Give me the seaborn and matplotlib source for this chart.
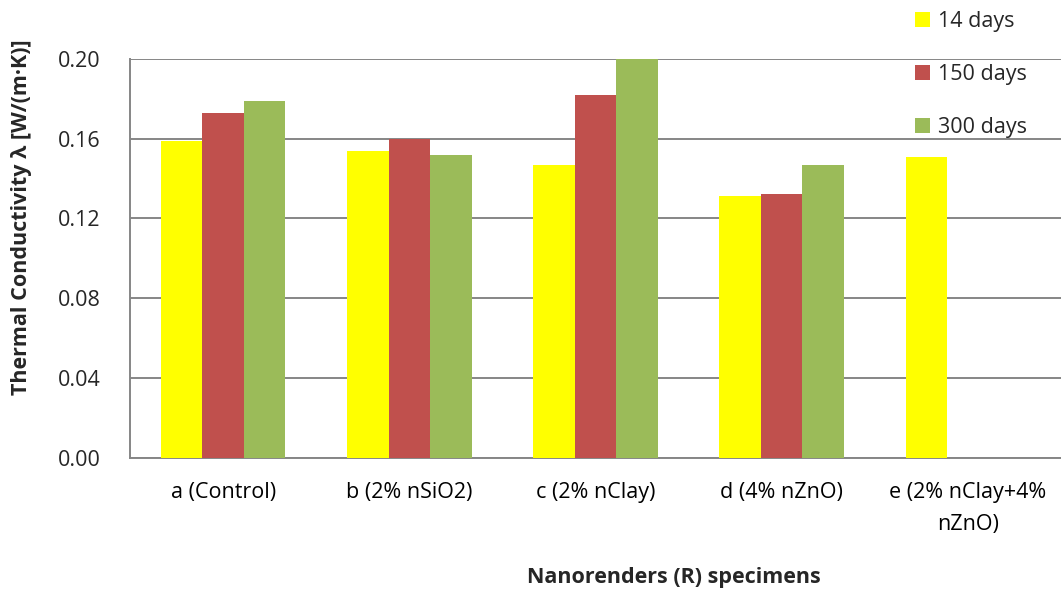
import matplotlib
matplotlib.use('Agg')
import matplotlib.pyplot as plt
import seaborn as sns
import numpy as np
import pandas as pd
from matplotlib.patches import Patch

# data
specimens = ['a (Control)', 'b (2% nSiO2)', 'c (2% nClay)', 'd (4% nZnO)',
             'e (2% nClay+4%\nnZnO)']
ages = ['14 days', '150 days', '300 days']
days_14 = [0.159, 0.154, 0.147, 0.131, 0.151]
days_150 = [0.173, 0.160, 0.182, 0.132, np.nan]
days_300 = [0.179, 0.152, 0.200, 0.147, np.nan]
y_ticks = [0.00, 0.04, 0.08, 0.12, 0.16, 0.20]

colors = ['#FFFF00', '#C0504D', '#9BBB59']
grid_c = '#868686'
fs = 15.5

sns.set_style('white')
plt.rcParams['font.family'] = ['Open Sans', 'DejaVu Sans']

rows = []
for age, vals in zip(ages, [days_14, days_150, days_300]):
    for s, v in zip(specimens, vals):
        rows.append({'specimen': s, 'age': age, 'lambda': v})
df = pd.DataFrame(rows)

fig = plt.figure(figsize=(10.61, 5.99), dpi=100, facecolor='white')
ax = fig.add_axes([130 / 1061, 1 - 458 / 599, 1 - 130 / 1061, (458 - 58.7) / 599])

sns.barplot(data=df, x='specimen', y='lambda', hue='age', order=specimens,
            hue_order=ages, palette=colors, width=0.67, gap=0, errorbar=None,
            linewidth=0, saturation=1, legend=False, ax=ax, zorder=3)

ax.set_ylim(0, 0.20)
ax.set_xlim(-0.5, len(specimens) - 0.5)
ax.set_yticks(y_ticks)
ax.set_yticklabels([f'{t:.2f}' for t in y_ticks])
ax.yaxis.grid(True, color=grid_c, linewidth=1.4, zorder=0)
ax.set_axisbelow(True)

ax.set_xticks(np.arange(len(specimens)))
ax.set_xticklabels(specimens, linespacing=1.65)
ax.set_xticks(np.arange(len(specimens) + 1) - 0.5, minor=True)
ax.tick_params(axis='x', which='major', length=0, pad=17.5, labelsize=fs, colors='black')
ax.tick_params(axis='x', which='minor', length=6, width=1.2, color=grid_c)
ax.tick_params(axis='y', length=6, width=1.2, color=grid_c, pad=15, labelsize=fs)
ax.set_xlabel('')
ax.set_ylabel('')

for sp in ['top', 'right']:
    ax.spines[sp].set_visible(False)
for sp in ['left', 'bottom']:
    ax.spines[sp].set_color(grid_c)
    ax.spines[sp].set_linewidth(1.4)

fig.text(674 / 1061, 1 - 578 / 599, 'Nanorenders (R) specimens', ha='center',
         va='center', fontsize=fs, fontweight='bold')
fig.text(22 / 1061, 1 - 217 / 599, 'Thermal Conductivity λ [W/(m·K)]', ha='center',
         va='center', rotation=90, fontsize=fs, fontweight='bold')

handles = [Patch(facecolor=c, edgecolor='none') for c in colors]
fig.legend(handles, ages, loc='upper left', bbox_to_anchor=(906 / 1061, 1 - 2 / 599),
           frameon=False, fontsize=fs, handlelength=0.7, handleheight=0.7,
           handletextpad=0.4, labelspacing=1.5, borderaxespad=0)

fig.savefig('out.png', dpi=100, facecolor='white')
